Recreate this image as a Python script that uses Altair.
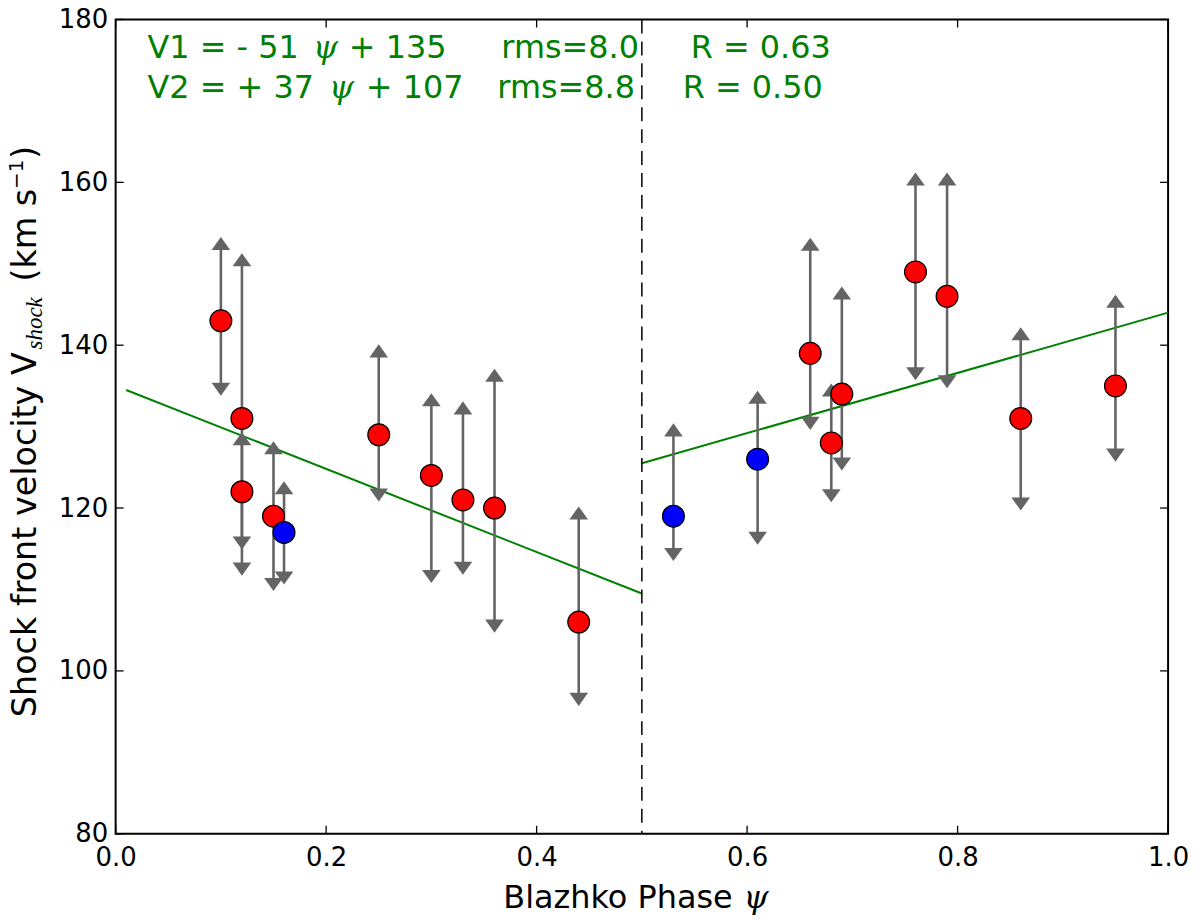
import altair as alt
import pandas as pd

# ---------------- data ----------------
red_phase = [0.10, 0.12, 0.12, 0.15, 0.25, 0.30, 0.33, 0.36, 0.44,
             0.66, 0.68, 0.69, 0.76, 0.79, 0.86, 0.95]
red_v = [143, 131, 122, 119, 129, 124, 121, 120, 106,
         139, 128, 134, 149, 146, 131, 135]
red_hi = [152.5, 150.5, 128.5, 127.4, 139.3, 133.3, 132.3, 136.3, 119.4,
          152.4, 134.5, 146.4, 160.4, 160.4, 141.4, 145.4]
red_lo = [134.6, 112.5, 115.7, 110.6, 121.6, 111.6, 112.6, 105.5, 96.5,
          130.4, 121.5, 125.4, 136.5, 135.5, 120.5, 126.5]

blue_phase = [0.16, 0.53, 0.61]
blue_v = [117, 119, 126]
blue_hi = [122.5, 129.6, 133.6]
blue_lo = [111.4, 114.3, 116.3]

fit1_x = [0.01, 0.50]
fit1_y = [134.5, 109.5]
fit2_x = [0.50, 1.00]
fit2_y = [125.5, 144.0]

split_phase = [0.5]

x_ticks = [0.0, 0.2, 0.4, 0.6, 0.8, 1.0]
y_ticks = [80, 100, 120, 140, 160, 180]

eq_line1 = ["V1 = - 51", "\u03c8", "+ 135", "rms=8.0", "R = 0.63"]
eq_line2 = ["V2 = + 37", "\u03c8", "+ 107", "rms=8.8", "R = 0.50"]
x_title = ["Blazhko Phase", "\u03c8"]
y_title = ["Shock front velocity V", "shock", "(km s", "\u22121", ")"]

# ---------------- build ----------------
W, H = 1056, 817
GREEN = "#008000"
GREY = "#646464"
SANS = "DejaVu Sans"
SERIF = "DejaVu Serif"
SERIF2 = "Liberation Serif"

xs = alt.Scale(domain=[0, 1], nice=False, zero=False)
ys = alt.Scale(domain=[80, 180], nice=False, zero=False)

pts = pd.DataFrame({
    "phase": red_phase + blue_phase,
    "v": red_v + blue_v,
    "hi": red_hi + blue_hi,
    "lo": red_lo + blue_lo,
    "col": ["#ff0000"] * len(red_phase) + ["#0000ff"] * len(blue_phase),
})

fits = pd.DataFrame({
    "x": fit1_x + fit2_x,
    "y": fit1_y + fit2_y,
    "seg": ["V1"] * 2 + ["V2"] * 2,
})

X = alt.X("phase:Q", scale=xs,
          axis=alt.Axis(values=x_ticks, format=".1f", grid=False, ticks=False,
                        tickSize=0, domain=False, labelFont=SANS, labelFontSize=26,
                        labelColor="black", labelPadding=11, labelFlush=False,
                        labelOverlap=False, title=None))
Y = alt.Y("v:Q", scale=ys,
          axis=alt.Axis(values=y_ticks, format="d", grid=False, ticks=False,
                        tickSize=0, domain=False, labelFont=SANS, labelFontSize=26,
                        labelColor="black", labelPadding=8, labelFlush=False,
                        labelOverlap=False, title=None))

fit_layer = alt.Chart(fits).mark_line(color=GREEN, strokeWidth=2).encode(
    x=alt.X("x:Q", scale=xs), y=alt.Y("y:Q", scale=ys), detail="seg:N")

split_layer = alt.Chart(pd.DataFrame({"x": split_phase})).mark_rule(
    color="black", strokeWidth=1.5, strokeDash=[14, 8]).encode(
    x=alt.X("x:Q", scale=xs))

bars = alt.Chart(pts).mark_rule(color=GREY, strokeWidth=2.6).encode(
    x=alt.X("phase:Q", scale=xs), y=alt.Y("lo:Q", scale=ys), y2="hi:Q")

up_heads = alt.Chart(pts).mark_point(
    shape="M-1,0.7L0,-0.7L1,0.7Z", filled=True, size=350, color=GREY, opacity=1
).encode(x=alt.X("phase:Q", scale=xs), y=alt.Y("hi:Q", scale=ys))

down_heads = alt.Chart(pts).mark_point(
    shape="M-1,-0.7L0,0.7L1,-0.7Z", filled=True, size=350, color=GREY, opacity=1
).encode(x=alt.X("phase:Q", scale=xs), y=alt.Y("lo:Q", scale=ys))

dots = alt.Chart(pts).mark_circle(size=480, opacity=1, stroke="black",
                                  strokeWidth=1.2).encode(
    x=X, y=Y, color=alt.Color("col:N", scale=None))

# inward ticks on all four sides
xt = pd.DataFrame({"t": x_ticks})
yt = pd.DataFrame({"t": y_ticks})
tick_kw = dict(color="black", strokeWidth=1.3)
tb = alt.Chart(xt).mark_rule(**tick_kw).encode(
    x=alt.X("t:Q", scale=xs), y=alt.value(H), y2=alt.value(H - 8))
tt = alt.Chart(xt).mark_rule(**tick_kw).encode(
    x=alt.X("t:Q", scale=xs), y=alt.value(0), y2=alt.value(8))
tl = alt.Chart(yt).mark_rule(**tick_kw).encode(
    y=alt.Y("t:Q", scale=ys), x=alt.value(0), x2=alt.value(8))
tr = alt.Chart(yt).mark_rule(**tick_kw).encode(
    y=alt.Y("t:Q", scale=ys), x=alt.value(W), x2=alt.value(W - 8))


def label(s, px, py, **kw):
    base = dict(align="left", baseline="alphabetic")
    base.update(kw)
    return alt.Chart(pd.DataFrame({"s": [s]})).mark_text(**base).encode(
        x=alt.value(px), y=alt.value(py), text="s:N")


texts = []
# green equations (plot-area pixel coords)
g = dict(color=GREEN, font=SANS, fontSize=32)
gi = dict(color=GREEN, font=SERIF, fontSize=32, fontStyle="italic")
texts += [
    label(eq_line1[0], 32, 39, **g),
    label(eq_line1[1], 198, 39, **gi),
    label(eq_line1[2], 234, 39, **g),
    label(eq_line1[3], 387, 39, **g),
    label(eq_line1[4], 577, 39, **g),
    label(eq_line2[0], 32, 79, **g),
    label(eq_line2[1], 214, 79, **gi),
    label(eq_line2[2], 251, 79, **g),
    label(eq_line2[3], 383, 79, **g),
    label(eq_line2[4], 569, 79, **g),
]
# x axis title
texts += [
    label(x_title[0], 389, 892, color="black", font=SANS, fontSize=32),
    label(x_title[1], 630, 892, color="black", font=SERIF, fontSize=32,
          fontStyle="italic"),
]
# y axis title, rotated (reads bottom to top)
r = dict(color="black", angle=270)
texts += [
    label(y_title[0], -80, 700, font=SANS, fontSize=33.5, **r),
    label(y_title[1], -74, 331, font=SERIF2, fontSize=23, fontStyle="italic", **r),
    label(y_title[2], -80, 263, font=SANS, fontSize=33.5, **r),
    label(y_title[3], -93, 170, font=SANS, fontSize=20, **r),
    label(y_title[4], -80, 140, font=SANS, fontSize=33.5, **r),
]

chart = alt.layer(
    fit_layer, split_layer, bars, up_heads, down_heads, dots,
    tb, tt, tl, tr, *texts
).properties(
    width=W, height=H,
    autosize=alt.AutoSizeParams(type="none"),
    padding={"left": 108, "top": 10, "right": 24, "bottom": 84},
).configure_view(stroke="black", strokeWidth=2)

chart.save("out.html", embed_options={"renderer": "svg", "actions": False})
